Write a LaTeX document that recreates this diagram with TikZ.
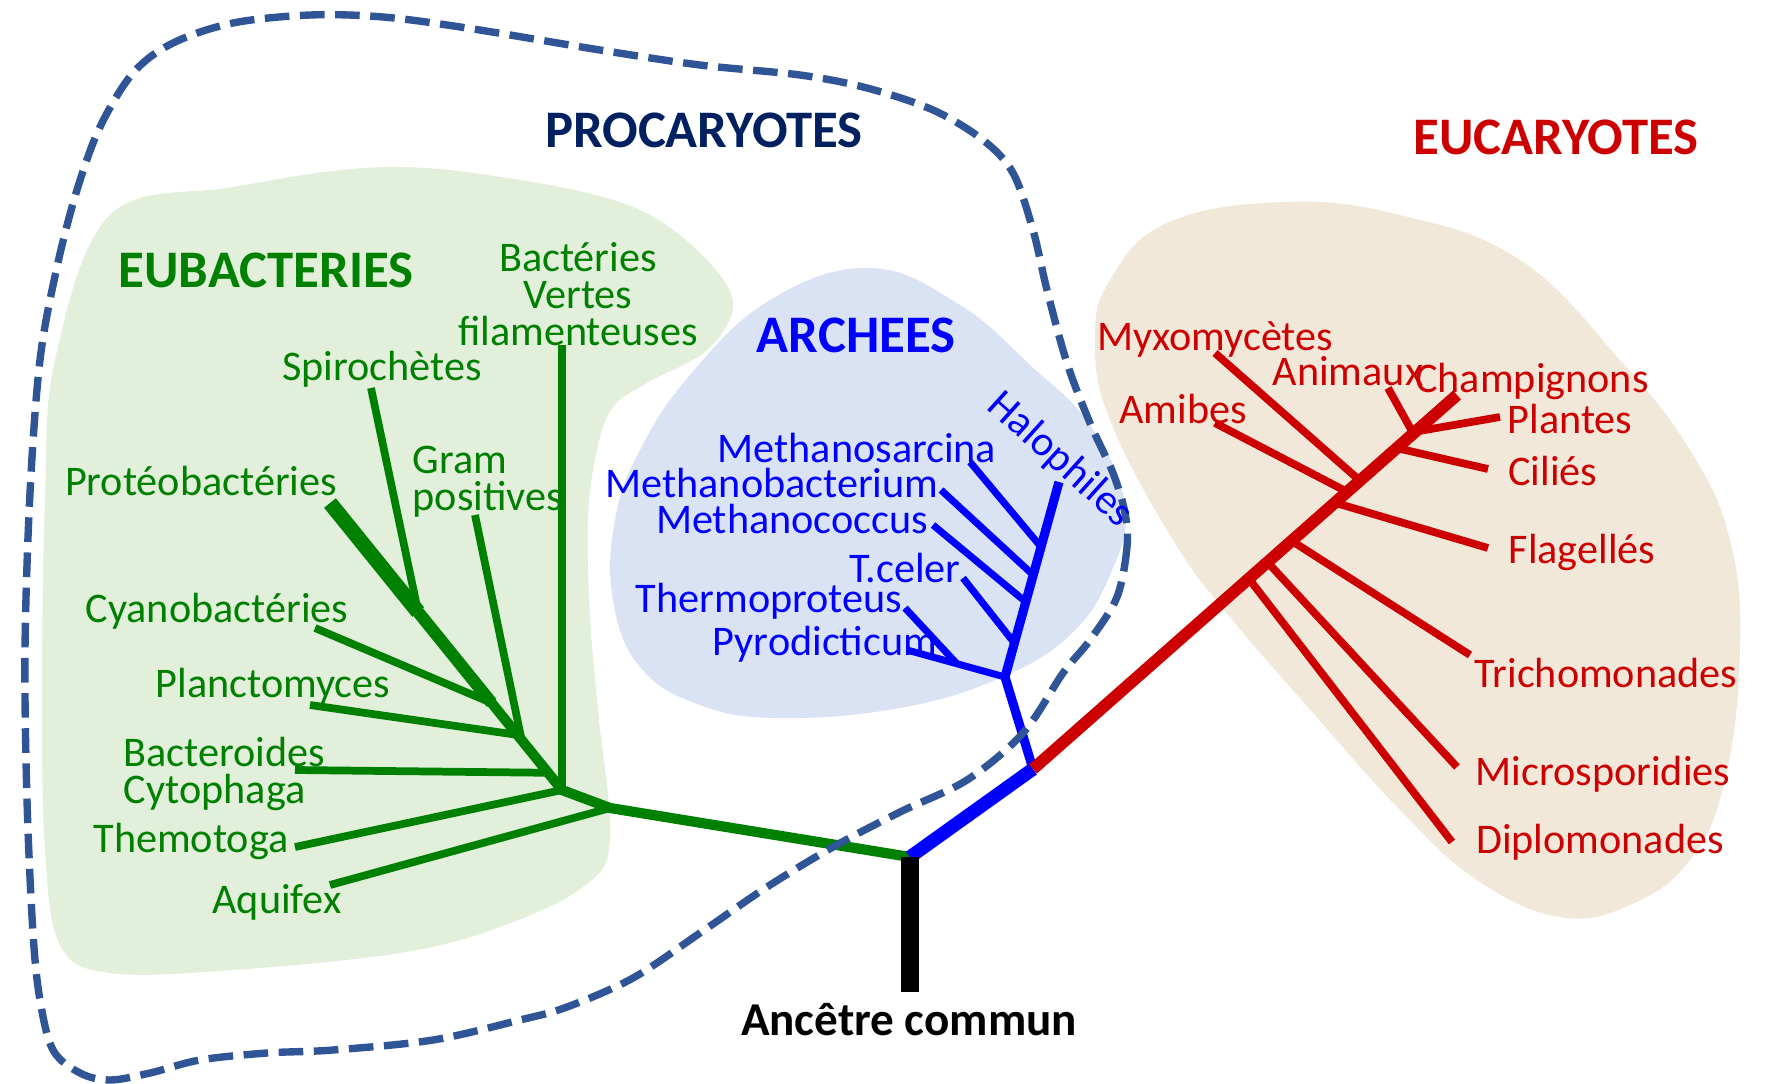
\documentclass[tikz,border=0pt]{standalone}
\usepackage{fontspec}
\setmainfont{Carlito}
\usetikzlibrary{calc}

\definecolor{ebgreen}{RGB}{0,128,0}
\definecolor{ebfill}{RGB}{226,239,218}
\definecolor{arblue}{RGB}{0,0,255}
\definecolor{arfill}{RGB}{218,227,243}
\definecolor{eured}{RGB}{204,0,0}
\definecolor{eufill}{RGB}{242,232,218}
\definecolor{procnavy}{RGB}{0,32,96}
\definecolor{procdash}{RGB}{47,85,151}

\begin{document}
\begin{tikzpicture}[x=0.01cm,y=-0.01cm,
  lab/.style={font=\fontsize{12}{10.5}\selectfont, inner sep=0pt},
  grouptitle/.style={font=\fontsize{15}{18}\selectfont\bfseries, inner sep=0pt},
  gb/.style={draw=ebgreen, line width=2.2pt},
  bb/.style={draw=arblue, line width=2pt},
  rb/.style={draw=eured, line width=2.2pt}]

  \useasboundingbox (0,0) rectangle (1765,1084);

  % Zones
  \fill[ebfill] plot[smooth cycle, tension=0.6] coordinates {(42,700) (45,500) (55,360)
    (110,215) (233,187) (383,167) (520,180) (633,207) (700,253) (733,303) (707,350)
    (647,383) (613,407) (597,450) (588,517) (590,617) (598,710) (610,840) (583,887)
    (500,927) (400,953) (233,970) (110,973) (60,945) (45,850)};
  \fill[arfill] plot[smooth cycle, tension=0.7] coordinates {(870,268) (960,305)
    (1030,365) (1090,425) (1125,505) (1110,575) (1070,635) (1000,678) (900,708)
    (780,718) (700,705) (640,667) (613,600) (615,520) (640,450) (690,375) (770,300)};
  \fill[eufill] plot[smooth cycle, tension=0.7] coordinates {(1283,202) (1167,223)
    (1110,280) (1095,340) (1110,420) (1173,540) (1230,617) (1313,713) (1400,810)
    (1477,880) (1560,917) (1630,905) (1690,860) (1725,780) (1740,650) (1730,540)
    (1690,450) (1620,360) (1520,260) (1400,215)};

  % Eubacteries
  \coordinate (racine) at (910,857);
  \coordinate (base) at (910,992);
  \coordinate (jaqui) at (610,808);
  \coordinate (jzero) at (562,790);
  \coordinate (proteo) at (330,503);
  \coordinate (jspiro) at ($(proteo)!0.38!(jzero)$);
  \coordinate (jcyano) at ($(proteo)!0.697!(jzero)$);
  \coordinate (jplanc) at ($(proteo)!0.808!(jzero)$);
  \coordinate (jgram) at ($(proteo)!0.826!(jzero)$);
  \coordinate (jbact) at ($(proteo)!0.94!(jzero)$);
  \coordinate (spiro) at (371,388);
  \coordinate (gram) at (475,515);
  \coordinate (cyano) at (315,628);
  \coordinate (planc) at (310,705);
  \coordinate (bact) at (295,770);
  \coordinate (vertes) at (562,345);
  \coordinate (themo) at (295,847);
  \coordinate (aqui) at (330,885);

  \draw[gb] (spiro) -- (jspiro);
  \draw[gb] (gram) -- (jgram);
  \draw[gb] (cyano) -- (jcyano);
  \draw[gb] (planc) -- (jplanc);
  \draw[gb] (bact) -- (jbact);
  \draw[gb] (vertes) -- (jzero);
  \draw[gb] (themo) -- (jzero);
  \draw[gb] (aqui) -- (jaqui);
  \draw[gb, line width=2.9pt] (jcyano) -- (jzero) -- (jaqui) -- (racine);
  \draw[gb, line width=3.5pt] (jspiro) -- (jcyano);
  \draw[gb, line width=4.3pt] (proteo) -- (jspiro);

  % Archees
  \coordinate (barch) at (1033,769);
  \coordinate (jhalo) at (1005,677);
  \coordinate (halo) at (1059,482);
  \coordinate (jsarc) at ($(jhalo)!0.667!(halo)$);
  \coordinate (jmbact) at ($(jhalo)!0.523!(halo)$);
  \coordinate (jcoccus) at ($(jhalo)!0.385!(halo)$);
  \coordinate (jceler) at ($(jhalo)!0.174!(halo)$);
  \coordinate (pyro) at (907,650);
  \coordinate (jthermo) at ($(pyro)!0.509!(jhalo)$);
  \coordinate (thermo) at (905,608);
  \coordinate (celer) at (963,578);
  \coordinate (coccus) at (933,525);
  \coordinate (mbact) at (941,490);
  \coordinate (sarc) at (970,462);

  \draw[bb] (sarc) -- (jsarc);
  \draw[bb] (mbact) -- (jmbact);
  \draw[bb] (coccus) -- (jcoccus);
  \draw[bb] (celer) -- (jceler);
  \draw[bb] (thermo) -- (jthermo);
  \draw[bb] (pyro) -- (jhalo);
  \draw[bb, line width=2.6pt] (halo) -- (jhalo) -- (barch);
  \draw[bb, line width=3.8pt] (racine) -- (barch);

  % Eucaryotes
  \coordinate (champ) at (1457,395);
  \coordinate (myxo) at (1215,353);
  \coordinate (amibes) at (1215,423);
  \coordinate (animaux) at (1388,388);
  \coordinate (plantes) at (1500,417);
  \coordinate (cilies) at (1488,469);
  \coordinate (flag) at (1488,548);
  \coordinate (tricho) at (1470,655);
  \coordinate (micro) at (1457,767);
  \coordinate (diplo) at (1452,842);

  \draw[rb] (myxo) -- ($(barch)!0.771!(champ)$);
  \draw[rb] (amibes) -- ($(barch)!0.741!(champ)$);
  \draw[rb] (animaux) -- ($(barch)!0.897!(champ)$);
  \draw[rb] (plantes) -- ($(barch)!0.902!(champ)$);
  \draw[rb] (cilies) -- ($(barch)!0.858!(champ)$);
  \draw[rb] (flag) -- ($(barch)!0.712!(champ)$);
  \draw[rb] (tricho) -- ($(barch)!0.610!(champ)$);
  \draw[rb] (micro) -- ($(barch)!0.553!(champ)$);
  \draw[rb] (diplo) -- ($(barch)!0.509!(champ)$);
  \draw[rb, line width=3.4pt] (barch) -- (champ);

  \draw[line width=5pt] (racine) -- (base);

  % Procaryotes
  \draw[procdash, line width=2.1pt, dash pattern=on 7pt off 3pt]
    plot[smooth cycle, tension=0.55] coordinates {(1125,513) (1127,547) (1117,597)
    (1090,640) (1063,673) (1023,733) (967,780) (900,812) (833,847) (767,887) (700,933)
    (633,978) (567,1007) (520,1020) (433,1040) (333,1050) (267,1053) (200,1060)
    (150,1073) (110,1080) (80,1073) (53,1050) (40,1000) (33,933) (27,800) (25,650)
    (30,493) (40,360) (57,267) (77,190) (100,127) (133,73) (173,43) (233,23) (310,15)
    (383,17) (467,28) (600,50) (700,65) (800,75) (867,88) (933,110) (983,140)
    (1013,173) (1033,230) (1047,290) (1067,363) (1090,423) (1113,473)};

  % Nodes
  \node[grouptitle, text=procnavy, anchor=base] (tproc) at (704,147) {PROCARYOTES};
  \node[grouptitle, text=eured, anchor=base] (teuc) at (1556,154) {EUCARYOTES};
  \node[grouptitle, text=ebgreen, anchor=base] (teub) at (266,287) {EUBACTERIES};
  \node[grouptitle, text=arblue, anchor=base] (tarch) at (856,352) {ARCHEES};
  \node[font=\fontsize{13.4}{16}\selectfont\bfseries, inner sep=0pt, anchor=base]
    (lracine) at (909,1035) {Ancêtre commun};

  \begin{scope}[every node/.style={lab, text=ebgreen}]
    \node[align=center] (lvertes) at (578,294) {Bactéries\\Vertes\\filamenteuses};
    \node[anchor=base] (lspiro) at (382,380) {Spirochètes};
    \node[align=left, anchor=west] (lgram) at (412,482) {Gram\\positives};
    \node[anchor=base] (lproteo) at (201,495) {Protéobactéries};
    \node[anchor=base] (lcyano) at (217,622) {Cyanobactéries};
    \node[anchor=base] (lplanc) at (273,697) {Planctomyces};
    \node[align=left, anchor=west] (lbact) at (123,774) {Bacteroides\\Cytophaga};
    \node[anchor=base] (lthemo) at (191,852) {Themotoga};
    \node[anchor=base] (laqui) at (277,913) {Aquifex};
  \end{scope}

  \begin{scope}[every node/.style={lab, text=arblue}]
    \node[anchor=base] (lsarc) at (857,462) {Methanosarcina};
    \node[anchor=base] (lmbact) at (772,497) {Methanobacterium};
    \node[anchor=base] (lcoccus) at (792,533) {Methanococcus};
    \node[anchor=base] (lceler) at (905,582) {T.celer};
    \node[anchor=base] (lthermo) at (769,612) {Thermoproteus};
    \node[anchor=base] (lpyro) at (825,655) {Pyrodicticum};
    \node[rotate=-42] (lhalo) at (1060,460) {Halophiles};
  \end{scope}

  \begin{scope}[every node/.style={lab, text=eured}]
    \node[anchor=base] (lmyxo) at (1215,350) {Myxomycètes};
    \node[anchor=base] (lanimaux) at (1348,385) {Animaux};
    \node[anchor=base] (lchamp) at (1532,392) {Champignons};
    \node[anchor=base] (lamibes) at (1183,423) {Amibes};
    \node[anchor=base] (lplantes) at (1570,433) {Plantes};
    \node[anchor=base] (lcilies) at (1553,485) {Ciliés};
    \node[anchor=base] (lflag) at (1582,563) {Flagellés};
    \node[anchor=base] (ltricho) at (1606,687) {Trichomonades};
    \node[anchor=base] (lmicro) at (1603,785) {Microsporidies};
    \node[anchor=base] (ldiplo) at (1600,853) {Diplomonades};
  \end{scope}

\end{tikzpicture}
\end{document}
